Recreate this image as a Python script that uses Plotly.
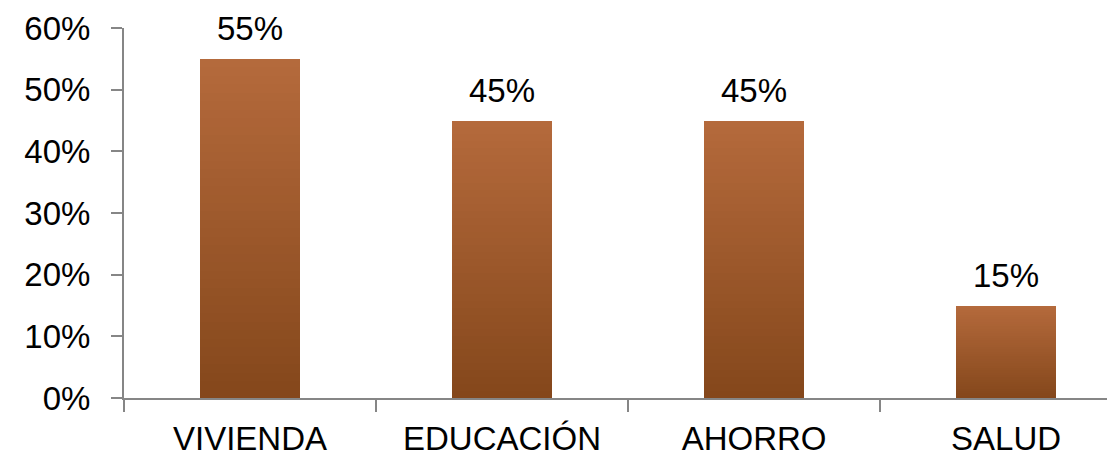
import plotly.graph_objects as go

categories = ["VIVIENDA", "EDUCACIÓN", "AHORRO", "SALUD"]
values = [0.55, 0.45, 0.45, 0.15]
value_labels = ["55%", "45%", "45%", "15%"]
y_ticks = [0, 0.1, 0.2, 0.3, 0.4, 0.5, 0.6]
y_tick_labels = ["0%", "10%", "20%", "30%", "40%", "50%", "60%"]

FONT = "Liberation Sans, Arial, sans-serif"
AXIS_COLOR = "#868686"
bottom_rgb = (0x84, 0x47, 0x1b)
top_rgb = (0xb5, 0x6a, 0x3c)
N = 40
FS = 33

fig = go.Figure()
for k in range(N):
    t = (k + 0.5) / N
    c = tuple(int(round(b + (tp - b) * t)) for b, tp in zip(bottom_rgb, top_rgb))
    fig.add_trace(go.Bar(
        x=categories,
        y=[v / N for v in values],
        marker=dict(color="rgb(%d,%d,%d)" % c, line=dict(width=0)),
        width=0.4,
        showlegend=False,
        hoverinfo="skip" if k < N - 1 else None,
        customdata=values,
        hovertemplate="%{x}: %{customdata:.0%}<extra></extra>",
    ))

for cat, v, lab in zip(categories, values, value_labels):
    fig.add_annotation(x=cat, y=v, text=lab, showarrow=False, yanchor="bottom",
                       yshift=10, font=dict(family=FONT, size=FS, color="#000000"))

fig.update_layout(
    barmode="stack",
    width=1115, height=459,
    margin=dict(l=116, r=0, t=20, b=69),
    paper_bgcolor="white", plot_bgcolor="white",
    font=dict(family=FONT, size=FS, color="#000000"),
    xaxis=dict(
        range=[-0.5, 3.464],
        showline=True, linecolor=AXIS_COLOR, linewidth=2,
        ticks="outside", tickson="boundaries", ticklen=12, tickwidth=2, tickcolor=AXIS_COLOR,
        showgrid=False, zeroline=False, ticklabelstandoff=10,
        tickfont=dict(family=FONT, size=FS, color="#000000"),
    ),
    yaxis=dict(
        range=[0, 0.6],
        tickvals=y_ticks, ticktext=y_tick_labels,
        showline=True, linecolor=AXIS_COLOR, linewidth=2,
        ticks="outside", ticklen=11, tickwidth=2, tickcolor=AXIS_COLOR,
        showgrid=False, zeroline=False, ticklabelstandoff=14,
        tickfont=dict(family=FONT, size=FS, color="#000000"),
    ),
)

fig.write_html("out.html")
